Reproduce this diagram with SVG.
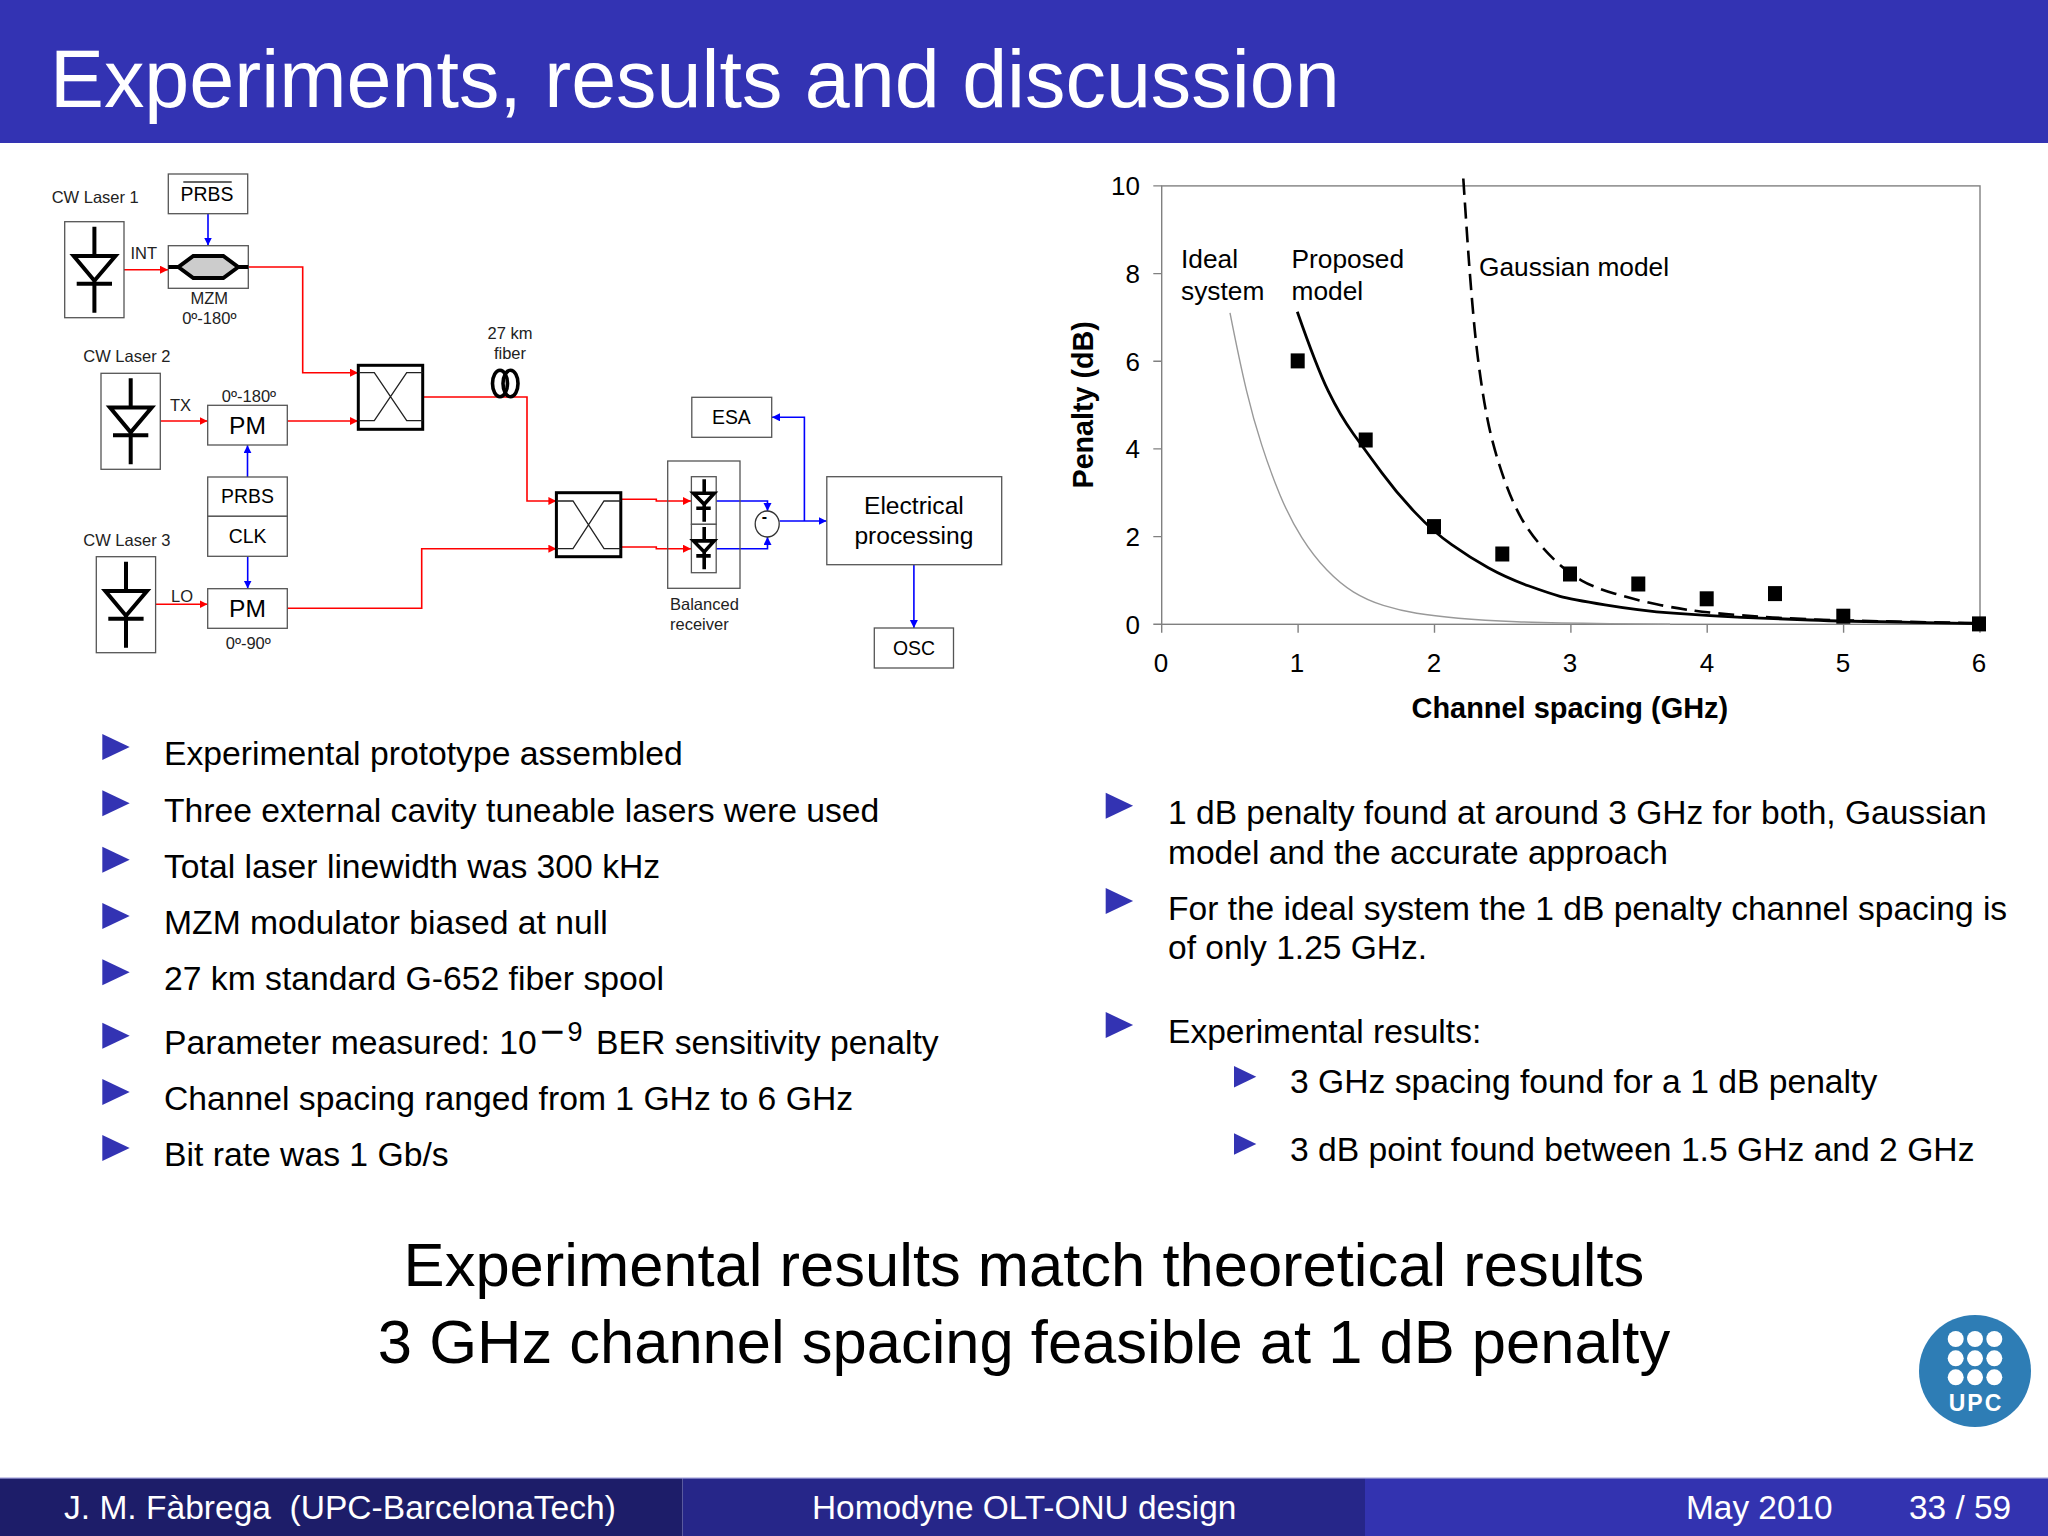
<svg xmlns="http://www.w3.org/2000/svg" xmlns:xlink="http://www.w3.org/1999/xlink" width="2048" height="1536" viewBox="0 0 2048 1536">
<style>
text{font-family:"Liberation Sans",Arial,sans-serif;fill:#000}
.box{fill:#fff;stroke:#555;stroke-width:1.3}
.l{font-size:16.5px;fill:#222}
.m{font-size:19.4px;text-anchor:middle}
.pm{font-size:24.6px;text-anchor:middle}
.a{text-anchor:middle}
.cpl{fill:#fff;stroke:#000;stroke-width:3}
.cx{fill:none;stroke:#222;stroke-width:1.3}
.red{fill:none;stroke:#f00;stroke-width:1.6;marker-end:url(#ra)}
.blue{fill:none;stroke:#00f;stroke-width:1.6;marker-end:url(#ba)}
.ld{fill:none;stroke:#000;stroke-width:4}
.ax{fill:none;stroke:#808080;stroke-width:1.4}
.tx{font-size:26px;text-anchor:middle}
.tr{font-size:26px;text-anchor:end}
.c{font-size:26.3px}
.sq{fill:#000}
.b{font-size:33.7px}
.br{font-size:33.55px}
.bs{font-size:33.65px}
.big{font-size:61.5px;text-anchor:middle}
.f{font-size:33.4px;fill:#fff}
.bu{fill:#3333b3}
</style>
<defs>
<marker id="ra" markerUnits="userSpaceOnUse" markerWidth="9" markerHeight="9" refX="8" refY="4" orient="auto"><path d="M0,0L8,4L0,8z" fill="#f00"/></marker>
<marker id="ba" markerUnits="userSpaceOnUse" markerWidth="9" markerHeight="9" refX="8" refY="4" orient="auto"><path d="M0,0L8,4L0,8z" fill="#00f"/></marker>
<g id="laser"><rect class="box" width="59.3" height="96"/><path class="ld" d="M29.7,5V34.3M9,34.3H50.7L29.7,59zM12,62H47.3M29.7,59V91"/></g>
<g id="pd"><path fill="none" stroke="#000" stroke-width="3.6" d="M12.8,2.6V16.6M2.1,16.6H22.8L12.8,27.6zM4.9,31.6H19.3M12.8,27.6V45"/></g>
<path id="bt" d="M0,-13L27.4,0L0,13z"/>
<path id="bs" d="M0,-10.7L22.3,0L0,10.7z"/>
</defs>
<rect width="2048" height="1536" fill="#fff"/>

<g id="header"><rect width="2048" height="143" fill="#3333b3"/>
<text x="50" y="107" font-size="80.85" style="fill:#fff">Experiments, results and discussion</text></g>

<g id="connectors">
<path class="red" d="M120.7,269.7H168"/>
<path class="red" d="M248.3,267H302.7V372.7H358"/>
<path class="red" d="M160.3,421H207.5"/>
<path class="red" d="M287.3,421H358"/>
<path class="red" d="M423,397H527V501H556.4"/>
<path class="red" d="M155.7,604.3H207.5"/>
<path class="red" d="M287.3,608.3H421.7V548.7H556.4"/>
<path class="red" d="M620.8,499.3H656.3V501H691"/>
<path class="red" d="M620.8,547H656.3V548.7H691"/>
<path class="blue" d="M208,213.7V245.5"/>
<path class="blue" d="M247.5,477V445.2"/>
<path class="blue" d="M247.7,556.3V588.5"/>
<path class="blue" d="M716.2,501H767.5V511"/>
<path class="blue" d="M716.2,548.7H767.5V537"/>
<path class="blue" d="M779.6,521H826.5"/>
<path class="blue" d="M804.4,521V417.3H772"/>
<path class="blue" d="M913.9,564.7V628"/>
</g>

<g id="laser1"><text class="l" x="51.7" y="202.7">CW Laser 1</text><use xlink:href="#laser" href="#laser" x="64.7" y="221.7"/></g>
<g id="laser2"><text class="l" x="83.3" y="362.3">CW Laser 2</text><use xlink:href="#laser" href="#laser" x="101" y="373.3"/></g>
<g id="laser3"><text class="l" x="83.3" y="546">CW Laser 3</text><use xlink:href="#laser" href="#laser" x="96.3" y="556.7"/></g>
<g id="labels"><text class="l" x="130.5" y="259">INT</text><text class="l" x="170" y="410.7">TX</text><text class="l" x="171" y="601.7">LO</text></g>
<g id="prbs-bar"><rect class="box" x="168.3" y="174" width="79.4" height="39.7"/><text class="m" x="207" y="200.7">PRBS</text><path d="M183.3,182H231.7" stroke="#333" stroke-width="1.3"/></g>
<g id="mzm"><rect class="box" x="168.3" y="245.7" width="80" height="42.6"/>
<path fill="#ccc" stroke="#000" stroke-width="4" d="M168.3,267H178.3L193.3,256H223.3L238.3,267H248.3M178.3,267L193.3,278H223.3L238.3,267"/>
<text class="l a" x="209.3" y="304.3">MZM</text><text class="l a" x="209.3" y="324.3">0º-180º</text></g>
<g id="pm1"><text class="l a" x="249" y="402.3">0º-180º</text><rect class="box" x="207.7" y="405.3" width="79.6" height="39.7"/><text class="pm" x="247.5" y="434">PM</text></g>
<g id="prbs"><rect class="box" x="207.7" y="477" width="79.6" height="39.3"/><text class="m" x="247.5" y="503.3">PRBS</text></g>
<g id="clk"><rect class="box" x="207.7" y="516.3" width="79.6" height="40"/><text class="m" x="247.5" y="543.3">CLK</text></g>
<g id="pm2"><rect class="box" x="207.7" y="588.7" width="79.6" height="39.6"/><text class="pm" x="247.5" y="616.7">PM</text><text class="l a" x="248.3" y="649.3">0º-90º</text></g>
<g id="coupler1"><rect class="cpl" x="358.3" y="365.3" width="64.4" height="64"/><path class="cx" d="M358.3,372.7H374.3L406.7,420.7H422.7M358.3,420.7H374.3L406.7,372.7H422.7"/></g>
<g id="fiber"><text class="l a" x="510" y="339">27 km</text><text class="l a" x="510" y="359">fiber</text>
<ellipse cx="500" cy="383.5" rx="7.5" ry="13.2" fill="none" stroke="#000" stroke-width="3.6"/><ellipse cx="510.5" cy="383.5" rx="7.5" ry="13.2" fill="none" stroke="#000" stroke-width="3.6"/></g>
<g id="coupler2"><rect class="cpl" x="556.4" y="492.7" width="64.4" height="64"/><path class="cx" d="M556.4,501H573L604,548.7H620.8M556.4,548.7H573L604,501H620.8"/></g>
<g id="receiver"><rect class="box" style="fill:none" x="667.7" y="461" width="72.3" height="127.3"/>
<rect class="box" x="691.4" y="476.7" width="24.8" height="47.6"/><rect class="box" x="691.4" y="524.3" width="24.8" height="48.4"/>
<use xlink:href="#pd" href="#pd" x="691.4" y="476.7"/><use xlink:href="#pd" href="#pd" x="691.4" y="524.3"/>
<text class="l" x="670" y="610">Balanced</text><text class="l" x="670" y="630.3">receiver</text></g>
<g id="subtractor"><ellipse cx="767.2" cy="524" rx="12" ry="13" fill="#fff" stroke="#333" stroke-width="1.3"/><text x="761.8" y="522" font-size="16" font-weight="bold">-</text></g>
<g id="esa"><rect class="box" x="691.8" y="397.3" width="79.9" height="40"/><text class="m" x="731.4" y="424">ESA</text></g>
<g id="electrical"><rect class="box" x="826.8" y="476.7" width="174.9" height="88"/><text class="pm" x="913.9" y="514.3">Electrical</text><text class="pm" x="913.9" y="544">processing</text></g>
<g id="osc"><rect class="box" x="874.3" y="628" width="79.2" height="40"/><text class="m" x="913.9" y="654.7">OSC</text></g>

<g id="chart">
<rect class="ax" x="1161.7" y="185.9" width="818.3" height="438.4"/>
<path class="ax" d="M1153.3,185.9H1161.7M1153.3,273.6H1161.7M1153.3,361.3H1161.7M1153.3,448.9H1161.7M1153.3,536.6H1161.7M1153.3,624.3H1161.7M1161.7,624.3V632.8M1298.1,624.3V632.8M1434.5,624.3V632.8M1570.9,624.3V632.8M1707.2,624.3V632.8M1843.6,624.3V632.8M1980,624.3V632.8"/>
<text class="tr" x="1140" y="195.1">10</text><text class="tr" x="1140" y="282.8">8</text><text class="tr" x="1140" y="370.5">6</text><text class="tr" x="1140" y="458.1">4</text><text class="tr" x="1140" y="545.8">2</text><text class="tr" x="1140" y="633.5">0</text>
<text class="tx" x="1161" y="671.6">0</text><text class="tx" x="1297" y="671.6">1</text><text class="tx" x="1434" y="671.6">2</text><text class="tx" x="1570" y="671.6">3</text><text class="tx" x="1707" y="671.6">4</text><text class="tx" x="1843" y="671.6">5</text><text class="tx" x="1979" y="671.6">6</text>
<text x="1411.5" y="718" font-size="28.95" font-weight="bold">Channel spacing (GHz)</text>
<text transform="translate(1093.3,488.5) rotate(-90)" font-size="28.7" font-weight="bold">Penalty (dB)</text>
<text class="c" x="1181" y="268">Ideal</text><text class="c" x="1181" y="300">system</text>
<text class="c" x="1291.5" y="268">Proposed</text><text class="c" x="1291.5" y="300">model</text>
<text class="c" x="1479" y="276">Gaussian model</text>
<path fill="none" stroke="#999" stroke-width="1.4" d="M1230,312.8Q1240,363.5 1246.7,391.3Q1253.3,419 1261.7,444.9Q1270,470.8 1280,494.9Q1290,518.9 1301.7,537.4Q1313.3,555.9 1326.7,569.8Q1340,583.6 1353.3,591.9Q1366.7,600.2 1383.3,605.4Q1400,610.6 1416.7,613.2Q1433.3,615.8 1458.3,618.2Q1483.3,620.6 1516.7,621.7Q1550,622.8 1610,623.6L1670,624.3"/>
<path fill="none" stroke="#000" stroke-width="2.8" d="M1297.3,311.7Q1316.7,367.2 1328.3,391.2Q1340,415.3 1353.3,433.8Q1366.7,452.3 1381.7,472.6Q1396.7,493 1415,512.4Q1433.3,531.8 1451.7,544.7Q1470,557.7 1488.3,567.8Q1506.7,578 1528.3,585.8Q1550,593.6 1560,596.3Q1570,599.1 1605,604.8Q1640,610.6 1673.3,613.2Q1706.7,615.8 1741.7,617.3Q1776.7,618.8 1810,620Q1843.3,621.3 1911,622.4L1979,623.6"/>
<path fill="none" stroke="#000" stroke-width="2.6" stroke-dasharray="16 8" d="M1463.3,178.5Q1466.7,230.3 1468.7,258Q1470.7,285.8 1473.7,319Q1476.7,352.4 1481.7,385.7Q1486.7,419 1492.5,441.2Q1498.3,463.4 1505.8,483.7Q1513.3,504 1521.7,518.8Q1530,533 1540,544.5Q1550,556 1560,565Q1570,574 1581.7,580.6Q1593.3,587.3 1615,593.7Q1636.7,600.2 1656.7,604.3Q1676.7,608.4 1695,610.8Q1713.3,613.2 1745,615.6Q1776.7,618 1810,619.3Q1843.3,620.6 1911,621.9L1979,623.2"/>
<g class="sq"><rect x="1290.7" y="353.4" width="14" height="15"/><rect x="1358.7" y="432.5" width="14" height="15"/><rect x="1427" y="519.1" width="14" height="15"/><rect x="1495.3" y="546.5" width="14" height="15"/><rect x="1563" y="566.5" width="14" height="15"/><rect x="1631.3" y="576.5" width="14" height="15"/><rect x="1699.7" y="591.3" width="14" height="15"/><rect x="1768" y="586.1" width="14" height="15"/><rect x="1836.3" y="608.7" width="14" height="15"/><rect x="1972" y="616.4" width="14" height="15"/></g>
</g>

<g id="bullets-left" class="bu">
<use xlink:href="#bt" href="#bt" x="102.3" y="747"/><use xlink:href="#bt" href="#bt" x="102.3" y="803.3"/><use xlink:href="#bt" href="#bt" x="102.3" y="859.7"/><use xlink:href="#bt" href="#bt" x="102.3" y="916"/><use xlink:href="#bt" href="#bt" x="102.3" y="972.3"/><use xlink:href="#bt" href="#bt" x="102.3" y="1035.7"/><use xlink:href="#bt" href="#bt" x="102.3" y="1092"/><use xlink:href="#bt" href="#bt" x="102.3" y="1148"/>
</g>
<g id="text-left">
<text class="b" x="164" y="765">Experimental prototype assembled</text>
<text class="b" x="164" y="821.5">Three external cavity tuneable lasers were used</text>
<text class="b" x="164" y="877.7">Total laser linewidth was 300 kHz</text>
<text class="b" x="164" y="934">MZM modulator biased at null</text>
<text class="b" x="164" y="990">27 km standard G-652 fiber spool</text>
<text class="b" x="164" y="1054">Parameter measured: 10</text>
<text x="540" y="1046" font-size="42">−</text><text x="567.5" y="1041" font-size="27">9</text>
<text class="b" x="596" y="1054">BER sensitivity penalty</text>
<text class="b" x="164" y="1110">Channel spacing ranged from 1 GHz to 6 GHz</text>
<text class="b" x="164" y="1165.7">Bit rate was 1 Gb/s</text>
</g>
<g id="bullets-right" class="bu">
<use xlink:href="#bt" href="#bt" x="1105.7" y="805.7"/><use xlink:href="#bt" href="#bt" x="1105.7" y="901"/><use xlink:href="#bt" href="#bt" x="1105.7" y="1025"/>
<use xlink:href="#bs" href="#bs" x="1234" y="1076.7"/><use xlink:href="#bs" href="#bs" x="1234" y="1144"/>
</g>
<g id="text-right">
<text class="br" x="1168" y="823.5">1 dB penalty found at around 3 GHz for both, Gaussian</text>
<text class="br" x="1168" y="863.5">model and the accurate approach</text>
<text class="br" x="1168" y="919.5">For the ideal system the 1 dB penalty channel spacing is</text>
<text class="br" x="1168" y="958.7">of only 1.25 GHz.</text>
<text class="br" x="1168" y="1043">Experimental results:</text>
<text class="bs" x="1290" y="1092.7">3 GHz spacing found for a 1 dB penalty</text>
<text class="bs" x="1290" y="1161">3 dB point found between 1.5 GHz and 2 GHz</text>
</g>
<g id="conclusion">
<text class="big" x="1024" y="1286">Experimental results match theoretical results</text>
<text class="big" x="1024" y="1363">3 GHz channel spacing feasible at 1 dB penalty</text>
</g>
<g id="logo"><circle cx="1975" cy="1371" r="56" fill="#2e7db5"/>
<g fill="#fff"><circle cx="1955.7" cy="1339" r="8"/><circle cx="1975" cy="1339" r="8"/><circle cx="1994.3" cy="1339" r="8"/><circle cx="1955.7" cy="1358.3" r="8"/><circle cx="1975" cy="1358.3" r="8"/><circle cx="1994.3" cy="1358.3" r="8"/><circle cx="1955.7" cy="1377.3" r="8"/><circle cx="1975" cy="1377.3" r="8"/><circle cx="1994.3" cy="1377.3" r="8"/></g>
<text x="1976" y="1411" font-size="23" font-weight="bold" letter-spacing="2" text-anchor="middle" style="fill:#fff">UPC</text></g>
<g id="footer">
<rect y="1478" width="682.5" height="58" fill="#1d1d69"/><rect x="682.5" y="1478" width="682.5" height="58" fill="#262689"/><rect x="1365" y="1478" width="683" height="58" fill="#3333b0"/>
<rect y="1477.5" width="2048" height="1.2" fill="#9a9ad6"/>
<text class="f" x="64" y="1519.3" xml:space="preserve" style="font-size:33.55px">J. M. Fàbrega  (UPC-BarcelonaTech)</text>
<text class="f" x="812" y="1519.3">Homodyne OLT-ONU design</text>
<text class="f" x="1686" y="1519.3">May 2010</text>
<text class="f" x="1909" y="1519.3">33 / 59</text>
</g>
</svg>
